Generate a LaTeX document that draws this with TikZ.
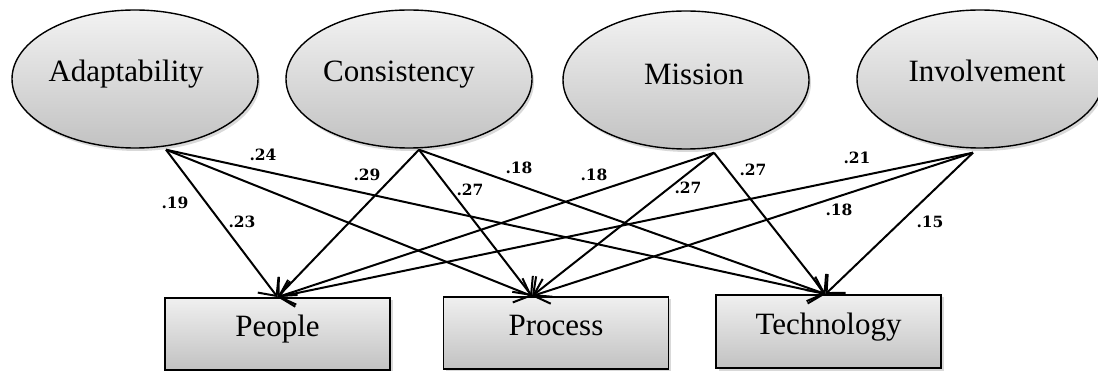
\documentclass[tikz,border=0pt]{standalone}
\usepackage{fontspec}
\setmainfont{Liberation Serif}
\newfontfamily\labfont{DejaVu Serif}
\usetikzlibrary{arrows.meta,shadows,shapes.geometric}
\begin{document}
\begin{tikzpicture}[x=1pt,y=-1pt,
  latent/.style={ellipse, draw=black, line width=1.4pt, minimum width=246pt, minimum height=138pt, inner sep=0pt,
    top color=gray!10, bottom color=gray!48,
    drop shadow={shadow xshift=2pt,shadow yshift=-3pt,opacity=0.3},
    font=\fontsize{31}{36}\selectfont, text height=20pt, text depth=14pt},
  outcome/.style={rectangle, draw=black, line width=1.8pt, minimum width=225pt, minimum height=72pt, inner sep=0pt,
    top color=gray!12, bottom color=gray!48,
    drop shadow={shadow xshift=2.5pt,shadow yshift=-2.5pt,opacity=0.3},
    font=\fontsize{31}{36}\selectfont, text height=20pt, text depth=14pt},
  effect/.style={line width=2pt, -{Straight Barb[length=14pt,width=26pt,line width=2pt]}},
  coef/.style={font=\labfont\bfseries\fontsize{15.5}{18}\selectfont, inner sep=0pt}
]
\useasboundingbox (0,0) rectangle (1098,371);

% latent variables
\node[latent] (adapt) at (135,79) {\hspace*{-18pt}Adaptability};
\node[latent] (consis) at (409,79) {\hspace*{-20pt}Consistency};
\node[latent, text depth=10pt] (mission) at (686,80) {Mission\hspace*{-16pt}};
\node[latent] (involve) at (980,79) {Involvement\hspace*{-14pt}};

% outcomes
\node[outcome] (people) at (277.5,334) {People};
\node[outcome] (process) at (556,333) {Process};
\node[outcome, minimum height=73pt] (tech) at (828.5,331.5) {Technology};

% connector end points
\coordinate (adapt-o) at ([xshift=31pt,yshift=-1pt]adapt.south);
\coordinate (consis-o) at ([xshift=10pt,yshift=-1pt]consis.south);
\coordinate (mission-o) at ([xshift=28pt,yshift=-3pt]mission.south);
\coordinate (involve-o) at ([xshift=-7pt,yshift=-4pt]involve.south);
\coordinate (people-i) at (people.north);
\coordinate (process-i) at ([xshift=-24pt]process.north);
\coordinate (tech-i) at ([xshift=-3pt]tech.north);

% paths
\draw[effect] (adapt-o) -- (people-i);
\draw[effect] (adapt-o) -- (process-i);
\draw[effect] (adapt-o) -- (tech-i);
\draw[effect] (consis-o) -- (people-i);
\draw[effect] (consis-o) -- (process-i);
\draw[effect] (consis-o) -- (tech-i);
\draw[effect] (mission-o) -- (people-i);
\draw[effect] (mission-o) -- (process-i);
\draw[effect] (mission-o) -- (tech-i);
\draw[effect] (involve-o) -- (people-i);
\draw[effect] (involve-o) -- (process-i);
\draw[effect] (involve-o) -- (tech-i);

% coefficients
\node[coef] (c1) at (263,155) {.24};
\node[coef] (c2) at (367,175) {.29};
\node[coef] (c3) at (519,168) {.18};
\node[coef] (c4) at (175,203) {.19};
\node[coef] (c5) at (242,222) {.23};
\node[coef] (c6) at (470,190) {.27};
\node[coef] (c7) at (594,175) {.18};
\node[coef] (c8) at (688,188) {.27};
\node[coef] (c9) at (753,170) {.27};
\node[coef] (c10) at (857,158) {.21};
\node[coef] (c11) at (839,210) {.18};
\node[coef] (c12) at (930,222) {.15};
\end{tikzpicture}
\end{document}
